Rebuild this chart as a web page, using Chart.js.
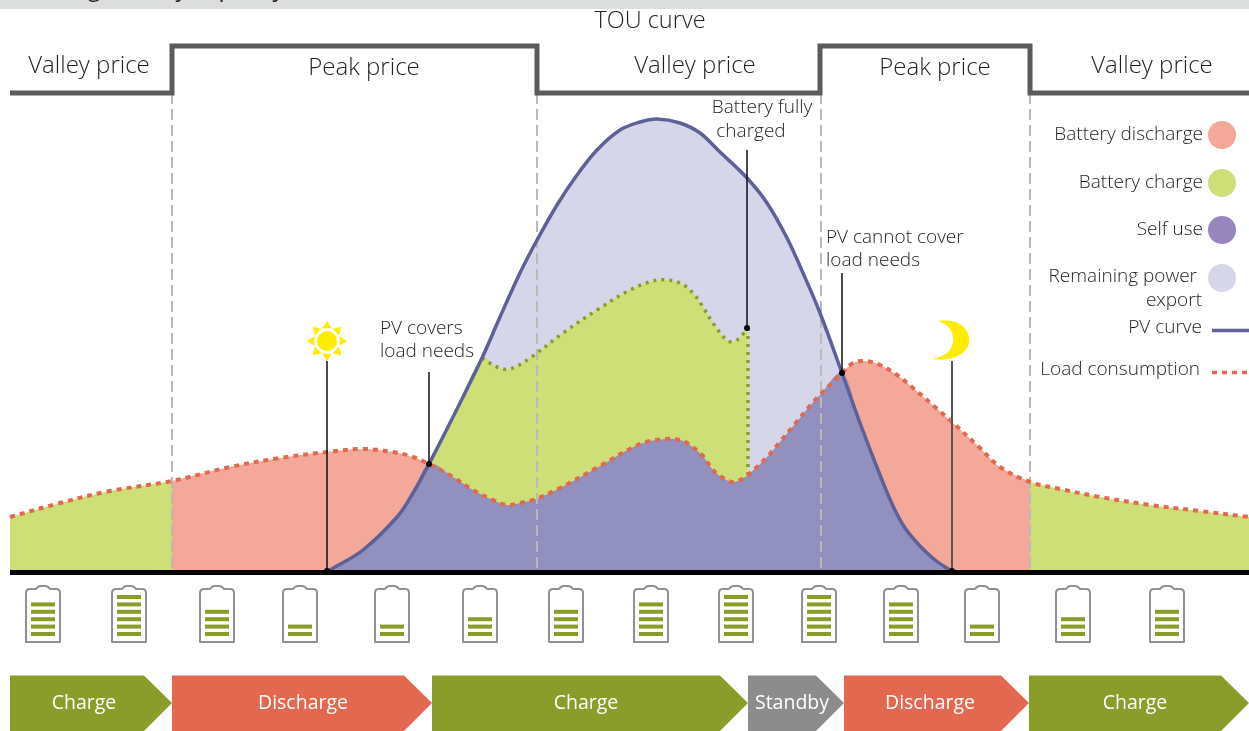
<!DOCTYPE html>
<html>
<head>
<meta charset="utf-8">
<title>TOU curve</title>
<script src="https://cdn.jsdelivr.net/npm/chart.js@4"></script>
<style>
html, body { margin: 0; padding: 0; background: #fff; overflow: hidden; }
canvas { display: block; }
</style>
</head>
<body>
<canvas id="touChart" width="1249" height="731"></canvas>
<script>
// x is position along the day, y is power above the zero line
var loadX = [10, 60, 110, 172, 230, 280, 327, 363, 393, 413, 429, 453, 473, 493, 507, 520, 536, 560, 600, 640, 665, 680, 687, 702, 713, 723, 732, 740, 748, 767, 780, 795, 808, 820, 842, 853, 865, 880, 897, 913, 935, 952, 980, 1000, 1030, 1060, 1100, 1150, 1200, 1249];
var loadY = [55, 69, 81, 91, 105, 114, 120, 123, 120, 115, 108, 95, 82, 72, 67, 69, 73, 84, 106, 128, 133, 132, 129, 117, 102, 94, 90, 92, 97, 115, 130, 148, 164, 177, 199, 209, 211, 207, 197, 184, 165, 150, 124, 105, 90, 83, 75, 67, 61, 55];

var pvX = [327, 330, 363, 397, 413, 429, 453, 482, 500, 520, 536, 557, 577, 597, 620, 640, 657, 680, 700, 720, 747, 767, 787, 803, 820, 842, 860, 880, 893, 905, 920, 935, 950];
var pvY = [0, 2, 22, 55, 79, 108, 155, 214, 255, 299, 330, 367, 397, 422, 442, 450, 453, 449, 439, 420, 394, 369, 334, 299, 259, 199, 149, 97, 66, 44, 26, 12, 2];

var chargeTopX = [482, 497, 510, 530, 563, 597, 630, 658, 680, 693, 703, 713, 728, 737, 748];
var chargeTopY = [214, 205, 203, 214, 239, 262, 282, 292, 289, 279, 265, 249, 231, 232, 244];

var priceX = [10, 172, 172, 537, 537, 820, 820, 1030, 1030, 1249];
var priceY = [479, 479, 526, 526, 479, 479, 526, 526, 479, 479];
var priceLabels = ['Valley price', 'Peak price', 'Valley price', 'Peak price', 'Valley price'];
var priceLabelX = [89, 364, 695, 935, 1152];
var priceLabelY = [506, 504, 506, 504, 506];
var dividerX = [172, 537, 821, 1030];

var stemX = [327, 429, 747, 842, 952];
var stemTop = [211, 200, 422, 299, 211];
var stemBottom = [1, 108, 244, 199, 1];

var batteryX = [43, 129, 217, 300, 392, 480, 566, 651, 736, 819, 901, 982, 1073, 1167];
var batteryBars = [5, 6, 4, 2, 2, 3, 4, 5, 6, 6, 5, 2, 3, 4];

var phaseNames = ['Charge', 'Discharge', 'Charge', 'Standby', 'Discharge', 'Charge'];
var phaseStart = [10, 172, 432, 748, 844, 1029];
var phaseEnd = [172, 432, 748, 844, 1029, 1249];
var phaseLabelX = [84, 303, 586, 792, 930, 1135];
var phaseColors = ['#8a9d2a', '#e2684f', '#8a9d2a', '#8c8c8c', '#e2684f', '#8a9d2a'];

var legendFills = ['Battery discharge', 'Battery charge', 'Self use', 'Remaining power'];
var legendFillColors = ['#f4a899', '#cfdf78', '#9786bc', '#d5d6ea'];

var RED = '#f4a899', GREEN = '#cfdf78', PURPLE = '#9190bf', LAVENDER = '#d5d6ea';
var LOAD_LINE = '#e2684f', PV_LINE = '#5e6197', OLIVE = '#8a9d2a';
var FONT = '"Open Sans", sans-serif';

function pts(xs, ys, from, to) {
	var out = [];
	for (var i = 0; i < xs.length; i++) {
		if (xs[i] >= from && xs[i] <= to) out.push({ x: xs[i], y: ys[i] });
	}
	return out;
}

function area(data, color) {
	return { data: data, showLine: true, borderWidth: 0, borderColor: color, backgroundColor: color, fill: 'origin', pointRadius: 0, tension: 0.35 };
}

function line(data, color, width, dash, tension) {
	return { data: data, showLine: true, borderWidth: width, borderColor: color, borderDash: dash || [], fill: false, pointRadius: 0, tension: tension || 0 };
}

// painted in this order, first entry ends up at the bottom
var layers = [
	area(pts(pvX, pvY, 327, 950), LAVENDER),
	area(pts(loadX, loadY, 10, 172), GREEN),
	area(pts(loadX, loadY, 172, 429), RED),
	area(pts(loadX, loadY, 842, 1030), RED),
	area(pts(loadX, loadY, 1030, 1249), GREEN),
	area(pts(pvX, pvY, 429, 481).concat(pts(chargeTopX, chargeTopY, 482, 748)), GREEN),
	area(pts(pvX, pvY, 327, 428).concat(pts(loadX, loadY, 429, 841), pts(pvX, pvY, 842, 950)), PURPLE)
];

dividerX.forEach(function (x) {
	layers.push(line([{ x: x, y: 479 }, { x: x, y: 0 }], '#b9b9b9', 2, [11, 5]));
});

layers.push(line(pts(chargeTopX, chargeTopY, 482, 748), OLIVE, 3.5, [3, 5], 0.35));
layers.push(line([{ x: 748, y: 244 }, { x: 748, y: 97 }], OLIVE, 3.5, [3, 5]));
layers.push(line(pts(pvX, pvY, 327, 950), PV_LINE, 3.5, [], 0.35));
layers.push(line(pts(loadX, loadY, 10, 1249), LOAD_LINE, 4, [5, 5], 0.35));
layers.push(line(pts(priceX, priceY, 0, 1249), '#5b5b5b', 5));
layers.push(line([{ x: 10, y: -0.5 }, { x: 1249, y: -0.5 }], '#000000', 5));

stemX.forEach(function (x, i) {
	var s = line([{ x: x, y: stemTop[i] }, { x: x, y: stemBottom[i] }], i == 4 ? '#555555' : '#111111', i == 4 ? 2 : 1.5);
	s.pointRadius = [0, 3];
	s.pointBackgroundColor = '#000000';
	s.pointBorderWidth = 0;
	layers.push(s);
});

function text(ctx, str, x, y, size, align, color, weight) {
	ctx.font = (weight || 300) + ' ' + size + 'px ' + FONT;
	ctx.textAlign = align || 'center';
	ctx.textBaseline = 'middle';
	ctx.fillStyle = color || '#1f1f1f';
	ctx.fillText(str, x, y + 2);
}

function drawSun(ctx, cx, cy) {
	ctx.fillStyle = '#ffed00';
	ctx.beginPath();
	ctx.arc(cx, cy, 10, 0, Math.PI * 2);
	ctx.fill();
	for (var i = 0; i < 8; i++) {
		var a = i * Math.PI / 4;
		ctx.beginPath();
		ctx.moveTo(cx + Math.cos(a) * 20, cy + Math.sin(a) * 20);
		ctx.lineTo(cx + Math.cos(a + 0.36) * 13.5, cy + Math.sin(a + 0.36) * 13.5);
		ctx.lineTo(cx + Math.cos(a - 0.36) * 13.5, cy + Math.sin(a - 0.36) * 13.5);
		ctx.fill();
	}
}

function drawMoon(ctx, cx, cy) {
	ctx.fillStyle = '#ffed00';
	ctx.beginPath();
	ctx.moveTo(cx - 14, cy - 40);
	ctx.bezierCurveTo(cx + 8, cy - 43, cx + 18, cy - 31, cx + 17, cy - 20);
	ctx.bezierCurveTo(cx + 17, cy - 9, cx + 3, cy + 1, cx - 20, cy - 2);
	ctx.bezierCurveTo(cx - 7, cy - 4, cx + 1, cy - 11, cx + 1, cy - 21);
	ctx.bezierCurveTo(cx + 1, cy - 31, cx - 4, cy - 37, cx - 14, cy - 40);
	ctx.fill();
}

function drawBattery(ctx, cx, bars) {
	ctx.strokeStyle = '#909090';
	ctx.lineWidth = 2;
	ctx.lineJoin = 'round';
	ctx.beginPath();
	ctx.moveTo(cx - 17, 593);
	ctx.quadraticCurveTo(cx - 17, 589, cx - 13, 589);
	ctx.lineTo(cx - 7, 589);
	ctx.quadraticCurveTo(cx - 5, 586, cx - 2, 586);
	ctx.lineTo(cx + 2, 586);
	ctx.quadraticCurveTo(cx + 5, 586, cx + 7, 589);
	ctx.lineTo(cx + 13, 589);
	ctx.quadraticCurveTo(cx + 17, 589, cx + 17, 593);
	ctx.lineTo(cx + 17, 642);
	ctx.lineTo(cx - 17, 642);
	ctx.closePath();
	ctx.stroke();
	ctx.fillStyle = '#8a9d2a';
	for (var i = 0; i < bars; i++) {
		ctx.fillRect(cx - 12, 632 - i * 7.4, 24, 4);
	}
}

var artwork = {
	id: 'artwork',
	beforeDatasetsDraw: function (chart) {
		var ctx = chart.ctx;
		// strip of the page above the chart, its text is cut off in the source too
		ctx.save();
		ctx.fillStyle = '#dcdedd';
		ctx.fillRect(0, 0, chart.width, 9);
		ctx.beginPath();
		ctx.rect(0, 0, chart.width, 9);
		ctx.clip();
		text(ctx, 'Using battery capacity', 38, -13, 24, 'left', '#222222', 400);
		ctx.restore();
	},
	afterDatasetsDraw: function (chart) {
		var ctx = chart.ctx, xs = chart.scales.x, ys = chart.scales.y;
		ctx.save();

		text(ctx, 'TOU curve', 650, 19, 23.5);
		priceLabels.forEach(function (t, i) {
			text(ctx, t, xs.getPixelForValue(priceLabelX[i]), ys.getPixelForValue(priceLabelY[i]) - 2, 24);
		});

		text(ctx, 'Battery fully', 762, 106, 19);
		text(ctx, 'charged', 751, 130, 19);
		text(ctx, 'PV covers', 380, 327, 19, 'left');
		text(ctx, 'load needs', 380, 350, 19, 'left');
		text(ctx, 'PV cannot cover', 826, 236, 19, 'left');
		text(ctx, 'load needs', 826, 259, 19, 'left');

		drawSun(ctx, xs.getPixelForValue(stemX[0]), 341);
		drawMoon(ctx, xs.getPixelForValue(stemX[4]), 361);

		// legend
		var legendY = [135, 183, 230, 278];
		legendFills.forEach(function (t, i) {
			text(ctx, t, i == 3 ? 1197 : 1203, (i == 3 ? 277 : legendY[i]) - 2, 19, 'right');
			ctx.fillStyle = legendFillColors[i];
			ctx.beginPath();
			ctx.arc(1222, legendY[i], 14, 0, Math.PI * 2);
			ctx.fill();
		});
		text(ctx, 'export', 1202, 299, 19, 'right');
		text(ctx, 'PV curve', 1202, 326, 19, 'right');
		text(ctx, 'Load consumption', 1200, 368, 19, 'right');
		ctx.lineWidth = 3.5;
		ctx.strokeStyle = PV_LINE;
		ctx.beginPath();
		ctx.moveTo(1212, 330.5);
		ctx.lineTo(1249, 330.5);
		ctx.stroke();
		ctx.strokeStyle = LOAD_LINE;
		ctx.setLineDash([5, 5]);
		ctx.beginPath();
		ctx.moveTo(1212, 372.5);
		ctx.lineTo(1249, 372.5);
		ctx.stroke();
		ctx.setLineDash([]);

		batteryX.forEach(function (x, i) {
			drawBattery(ctx, xs.getPixelForValue(x), batteryBars[i]);
		});

		phaseNames.forEach(function (t, i) {
			var a = xs.getPixelForValue(phaseStart[i]), b = xs.getPixelForValue(phaseEnd[i]);
			ctx.fillStyle = phaseColors[i];
			ctx.beginPath();
			ctx.moveTo(a, 675.5);
			ctx.lineTo(b - 28, 675.5);
			ctx.lineTo(b, 703);
			ctx.lineTo(b - 28, 731);
			ctx.lineTo(a, 731);
			ctx.closePath();
			ctx.fill();
			text(ctx, t, xs.getPixelForValue(phaseLabelX[i]), 701, 19.5, 'center', '#ffffff', 400);
		});
		ctx.restore();
	}
};

new Chart(document.getElementById('touChart'), {
	type: 'scatter',
	data: { datasets: layers.slice().reverse() },
	plugins: [artwork],
	options: {
		responsive: false,
		animation: false,
		layout: { padding: 0, autoPadding: false },
		plugins: { legend: { display: false }, tooltip: { enabled: false } },
		scales: {
			x: { type: 'linear', display: false, min: 0, max: 1249 },
			y: { type: 'linear', display: false, min: -159, max: 572 }
		}
	}
});
</script>
</body>
</html>
